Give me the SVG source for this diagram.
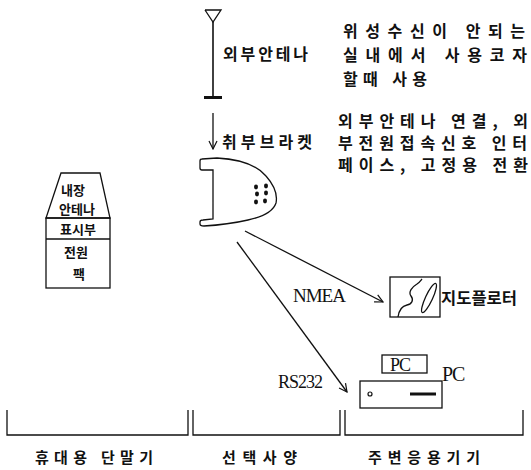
<svg xmlns="http://www.w3.org/2000/svg" width="531" height="470" viewBox="0 0 531 470">
  <defs>
    <marker id="open-arrow" viewBox="0 0 10 10" refX="9" refY="5" markerWidth="10" markerHeight="10" markerUnits="userSpaceOnUse" orient="auto">
      <polyline points="1,1 9,5 1,9" fill="none" stroke="#111" stroke-width="1.2"/>
    </marker>
    <style>
      .ln { fill: none; stroke: #111; stroke-width: 1.3; }
      .kr { font-family: "Noto Sans CJK KR", "Noto Sans", sans-serif; fill: #111; }
      .b { font-weight: bold; }
      .lat { font-family: "Liberation Serif", serif; fill: #111; letter-spacing: -1px; }
    </style>
  </defs>
  <rect width="531" height="470" fill="#fff"/>

  <!-- handheld terminal -->
  <g id="handheld">
    <path class="ln" d="M61,173 L100,173 L110,218 L46,218 Z"/>
    <rect class="ln" x="46" y="218" width="64" height="70"/>
    <line class="ln" x1="46" y1="239" x2="110" y2="239"/>
    <text class="kr b" x="73" y="195" font-size="13" text-anchor="middle">내장</text>
    <text class="kr b" x="77" y="214" font-size="13" text-anchor="middle">안테나</text>
    <text class="kr b" x="78" y="234" font-size="13" text-anchor="middle">표시부</text>
    <text class="kr b" x="76" y="257" font-size="13" text-anchor="middle">전원</text>
    <text class="kr b" x="79" y="279" font-size="13" text-anchor="middle">팩</text>
  </g>

  <!-- external antenna -->
  <g id="antenna">
    <polyline class="ln" points="205,10 221,10 213,22 205,10"/>
    <line x1="213" y1="22" x2="213" y2="97" stroke="#111" stroke-width="1.6"/>
    <rect x="204" y="96" width="18" height="3" fill="#111"/>
    <text class="kr b" x="223" y="60" font-size="16" textLength="85" lengthAdjust="spacing">외부안테나</text>
  </g>

  <!-- mounting bracket -->
  <g id="bracket">
    <path class="ln" d="M213,170 L202,170 Q200,170 200,168 L200,161 Q200,159 202,159 L217,158 C235,159 255,163 266,176 C274,185 278,193 276,203 C273,212 262,217 248,220 C235,223 222,225 204,226 Q200,226 200,224 L200,222 Q200,220 203,220 L213,219 Z"/>
    <g fill="#111">
      <ellipse cx="256" cy="187" rx="2" ry="2.4"/>
      <ellipse cx="266" cy="186" rx="2" ry="2.4"/>
      <ellipse cx="257" cy="194" rx="2" ry="2.4"/>
      <ellipse cx="266" cy="193" rx="2" ry="2.4"/>
      <ellipse cx="256" cy="202" rx="2" ry="2.4"/>
      <ellipse cx="265" cy="201" rx="2" ry="2.4"/>
    </g>
    <text class="kr b" x="222" y="148" font-size="16" textLength="90" lengthAdjust="spacing">취부브라켓</text>
  </g>

  <!-- explanatory notes -->
  <g id="notes">
    <text class="kr b" x="343" y="37" font-size="16" textLength="182" lengthAdjust="spacing">위성수신이 안되는</text>
    <text class="kr b" x="343" y="61" font-size="16" textLength="184" lengthAdjust="spacing">실내에서 사용코자</text>
    <text class="kr b" x="343" y="85" font-size="16" textLength="84" lengthAdjust="spacing">할때 사용</text>
    <text class="kr b" x="338" y="127" font-size="16" textLength="190" lengthAdjust="spacing">외부안테나 연결, 외</text>
    <text class="kr b" x="338" y="149" font-size="16" textLength="189" lengthAdjust="spacing">부전원접속신호 인터</text>
    <text class="kr b" x="338" y="171" font-size="16" textLength="190" lengthAdjust="spacing">페이스, 고정용 전환</text>
  </g>

  <!-- map plotter -->
  <g id="plotter">
    <rect class="ln" x="390" y="277" width="50" height="40"/>
    <path class="ln" d="M398,317 C399,310 402,306 407,305 C412,304 414,300 411,296 C408,292 412,287 417,284 C420,282 421,280 422,279"/>
    <ellipse class="ln" cx="429" cy="298" rx="3.5" ry="16" transform="rotate(25 429 298)"/>
    <text class="kr b" x="441" y="304" font-size="16" textLength="76" lengthAdjust="spacingAndGlyphs">지도플로터</text>
  </g>

  <!-- personal computer -->
  <g id="pc">
    <rect class="ln" x="382" y="355" width="45" height="18"/>
    <text class="lat" x="400" y="371" font-size="18" text-anchor="middle">PC</text>
    <rect class="ln" x="360" y="381" width="82" height="27"/>
    <circle cx="370" cy="394" r="2" fill="none" stroke="#111" stroke-width="1.2"/>
    <line x1="410" y1="394" x2="436" y2="394" stroke="#111" stroke-width="3"/>
    <text class="lat" x="442" y="381" font-size="20">PC</text>
  </g>

  <!-- connectors -->
  <g id="connectors">
    <line class="ln" x1="213" y1="113" x2="213" y2="149" marker-end="url(#open-arrow)"/>
    <line class="ln" x1="245" y1="231" x2="383" y2="302" marker-end="url(#open-arrow)"/>
    <line class="ln" x1="237" y1="242" x2="347" y2="392" marker-end="url(#open-arrow)"/>
    <text class="lat" x="293" y="302" font-size="19">NMEA</text>
    <text class="lat" x="278" y="388" font-size="18">RS232</text>
  </g>

  <!-- category brackets -->
  <g id="categories">
    <path class="ln" d="M7,410 V435 H188 V410"/>
    <path class="ln" d="M193,410 V435 H340 V410"/>
    <path class="ln" d="M345,410 V435 H523 V410"/>
    <text class="kr b" x="35" y="463" font-size="15" textLength="118" lengthAdjust="spacing">휴대용 단말기</text>
    <text class="kr b" x="222" y="463" font-size="15" textLength="75" lengthAdjust="spacing">선택사양</text>
    <text class="kr b" x="368" y="463" font-size="15" textLength="112" lengthAdjust="spacing">주변응용기기</text>
  </g>
</svg>
